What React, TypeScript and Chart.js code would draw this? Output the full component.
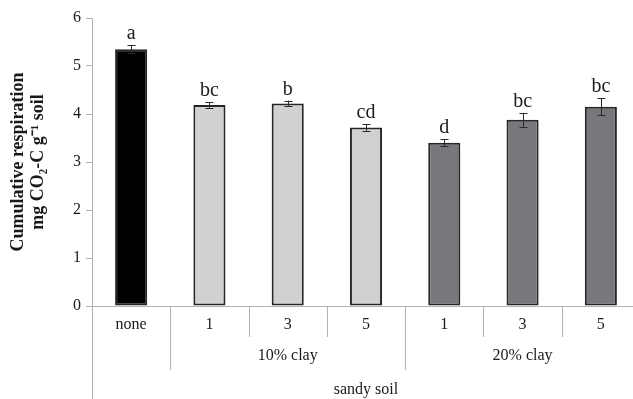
import React, { useEffect, useRef } from "react";
import { Chart, registerables } from "chart.js";

Chart.register(...registerables);

const categories = ["none", "1", "3", "5", "1", "3", "5"];
const values = [5.35, 4.19, 4.22, 3.72, 3.4, 3.88, 4.15];
const errors = [0.08, 0.06, 0.06, 0.07, 0.07, 0.145, 0.18];
const letters = ["a", "bc", "b", "cd", "d", "bc", "bc"];
const barColors = ["#000000", "#d0d1d3", "#d0d1d3", "#d0d1d3", "#77787c", "#77787c", "#77787c"];
const groupLabels = ["10% clay", "20% clay"];
const groupStart = [1, 4];
const groupEnd = [3, 6];
const outerLabel = "sandy soil";
const yTitleLines = ["Cumulative respiration", "mg CO\u2082-C g\u207B\u00B9 soil"];

const FONT = '"Liberation Serif", "Times New Roman", serif';
const AXIS_COLOR = "#b3b3b3";
const TEXT_COLOR = "#1a1a1a";

const extrasPlugin = {
  id: "extras",
  afterDraw(chart: any) {
    const ctx = chart.ctx;
    const xs = chart.scales.x;
    const ys = chart.scales.y;
    const base = ys.getPixelForValue(0);
    const half = (xs.getPixelForValue(1) - xs.getPixelForValue(0)) / 2;
    ctx.save();
    // error bars
    ctx.strokeStyle = "#2a2a2a";
    ctx.lineWidth = 1;
    values.forEach((v, i) => {
      const cx = Math.round(xs.getPixelForValue(i)) + 0.5;
      const yt = ys.getPixelForValue(v + errors[i]);
      const yb = ys.getPixelForValue(v - errors[i]);
      ctx.beginPath();
      ctx.moveTo(cx, yt);
      ctx.lineTo(cx, yb);
      ctx.moveTo(cx - 4, Math.round(yt) + 0.5);
      ctx.lineTo(cx + 4, Math.round(yt) + 0.5);
      ctx.moveTo(cx - 4, Math.round(yb) + 0.5);
      ctx.lineTo(cx + 4, Math.round(yb) + 0.5);
      ctx.stroke();
    });
    // significance letters
    ctx.fillStyle = TEXT_COLOR;
    ctx.font = `20px ${FONT}`;
    ctx.textAlign = "center";
    ctx.textBaseline = "alphabetic";
    values.forEach((v, i) => {
      const cx = xs.getPixelForValue(i);
      const yt = ys.getPixelForValue(v + errors[i]);
      ctx.fillText(letters[i], cx, yt - 6);
    });
    // hierarchy separators
    ctx.strokeStyle = AXIS_COLOR;
    ctx.lineWidth = 1;
    const longB = new Set<number>();
    groupStart.forEach((s) => longB.add(s));
    groupEnd.forEach((e) => longB.add(e + 1));
    for (let b = 1; b <= categories.length; b++) {
      const bx = Math.round(xs.getPixelForValue(b) - half) + 0.5;
      const len = longB.has(b) ? 64 : 31;
      ctx.beginPath();
      ctx.moveTo(bx, base);
      ctx.lineTo(bx, base + len);
      ctx.stroke();
    }
    // y-axis extension
    const ax = Math.round(xs.left) + 0.5;
    ctx.beginPath();
    ctx.moveTo(ax, base);
    ctx.lineTo(ax, chart.height);
    ctx.stroke();
    // group labels
    ctx.fillStyle = TEXT_COLOR;
    ctx.font = `16px ${FONT}`;
    groupLabels.forEach((g, k) => {
      const cx = (xs.getPixelForValue(groupStart[k]) + xs.getPixelForValue(groupEnd[k])) / 2;
      ctx.fillText(g, cx, base + 54);
    });
    const ox = (xs.getPixelForValue(0) + xs.getPixelForValue(categories.length - 1)) / 2;
    ctx.fillText(outerLabel, ox, base + 88);
    // y title
    ctx.font = `bold 18px ${FONT}`;
    const cy = (ys.top + ys.bottom) / 2;
    yTitleLines.forEach((t, k) => {
      ctx.save();
      ctx.translate(k === 0 ? 23 : 43, cy);
      ctx.rotate(-Math.PI / 2);
      ctx.fillText(t, 0, 0);
      ctx.restore();
    });
    ctx.restore();
  },
};

export default function App() {
  const ref = useRef<HTMLCanvasElement>(null);
  useEffect(() => {
    const chart = new Chart(ref.current!, {
      type: "bar",
      data: {
        labels: categories,
        datasets: [
          {
            data: values,
            backgroundColor: barColors,
            borderColor: "#262626",
            borderWidth: 2,
            borderSkipped: false,
            barPercentage: 0.41,
            categoryPercentage: 1,
          },
        ],
      },
      options: {
        responsive: false,
        animation: false,
        layout: { padding: { top: 18, right: 20, left: 0, bottom: 0 } },
        plugins: { legend: { display: false }, tooltip: { enabled: false } },
        scales: {
          x: {
            afterFit: (s: any) => {
              s.height = 93;
            },
            grid: { display: false },
            border: { display: true, color: AXIS_COLOR, width: 1 },
            ticks: {
              color: TEXT_COLOR,
              font: { family: FONT, size: 16 },
              padding: 1,
              maxRotation: 0,
              autoSkip: false,
            },
          },
          y: {
            min: 0,
            max: 6,
            afterFit: (s: any) => {
              s.width = 92;
            },
            grid: { drawOnChartArea: false, drawTicks: true, tickLength: 6, color: AXIS_COLOR },
            border: { display: true, color: AXIS_COLOR, width: 1 },
            ticks: {
              stepSize: 1,
              color: TEXT_COLOR,
              font: { family: FONT, size: 16 },
              padding: 5,
            },
          },
        },
      },
      plugins: [extrasPlugin],
    });
    return () => chart.destroy();
  }, []);
  return (
    <div style={{ position: "fixed", left: 0, top: 0, width: 633, height: 399, overflow: "hidden", background: "#fff" }}>
      <canvas ref={ref} width={660} height={399} style={{ display: "block" }} />
    </div>
  );
}
